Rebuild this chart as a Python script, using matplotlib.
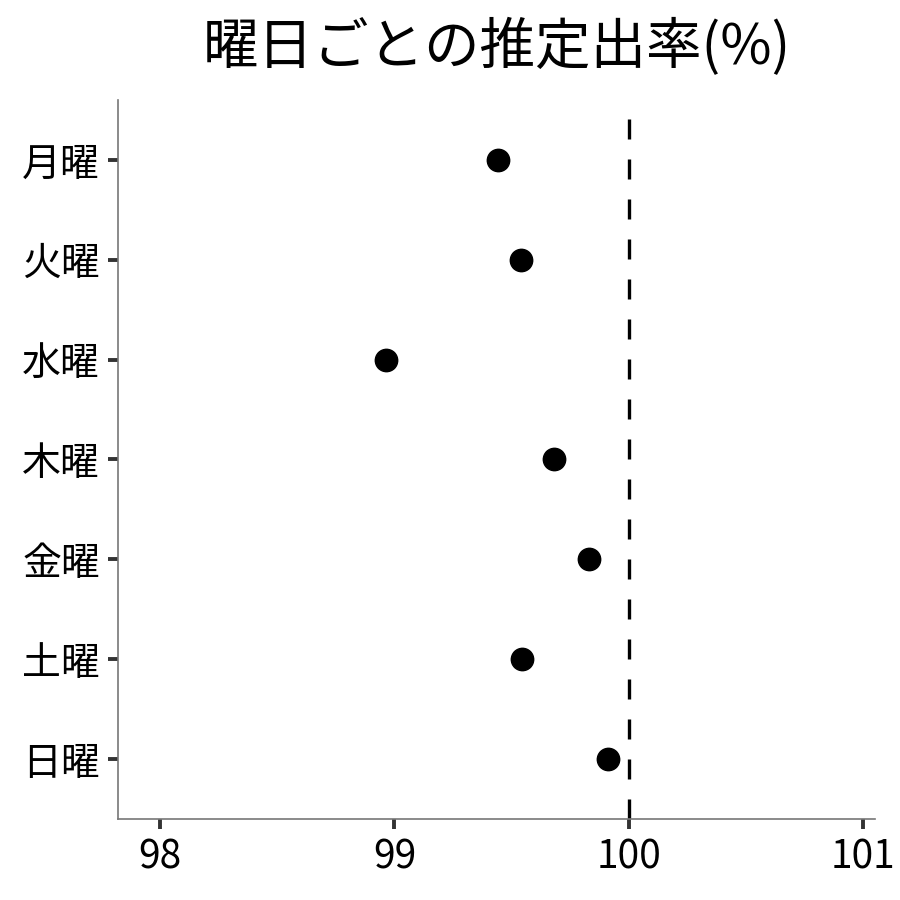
import matplotlib
matplotlib.use("Agg")
import matplotlib.pyplot as plt

plt.rcParams['font.family'] = ['Noto Sans CJK JP', 'DejaVu Sans']

# 曜日ごとの推定値 (%)
days = ['月曜', '火曜', '水曜', '木曜', '金曜', '土曜', '日曜']
rates = [99.44, 99.54, 98.965, 99.68, 99.83, 99.545, 99.91]
xticks = [98, 99, 100, 101]

fig = plt.figure(figsize=(9, 9), dpi=100)
ax = fig.add_axes([0.131, 0.09, 0.841, 0.799])

ypos = list(range(len(days)))
ax.scatter(rates, ypos, s=260, color='black', zorder=3)
ax.axvline(100, color='black', linewidth=2.4, dashes=(6, 6), zorder=2)

ax.set_yticks(ypos)
ax.set_yticklabels(days)
ax.set_ylim(len(days) - 0.4, -0.6)
ax.set_xticks(xticks)
ax.set_xticklabels([str(t) for t in xticks])
ax.set_xlim(97.82, 101.05)

for side in ['top', 'right']:
    ax.spines[side].set_visible(False)
for side in ['left', 'bottom']:
    ax.spines[side].set_color('#777777')
    ax.spines[side].set_linewidth(1.2)

ax.tick_params(axis='both', length=7, width=2.8, color='#333333',
               labelsize=28, labelcolor='black')
ax.tick_params(axis='y', pad=6)
ax.tick_params(axis='x', pad=6)

ax.set_title('曜日ごとの推定出率(%)', fontsize=40, pad=26)

fig.savefig('out.png', dpi=100)
